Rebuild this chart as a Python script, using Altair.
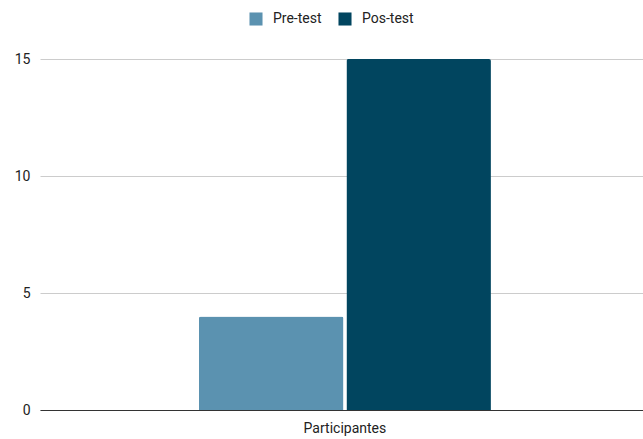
import altair as alt
import pandas as pd

categories = ["Participantes"]
series = ["Pre-test", "Pos-test"]
values = [4, 15]
colors = ["#5b92b0", "#01455f"]

df = pd.DataFrame({
    "cat": [categories[0]] * len(series),
    "serie": series,
    "valor": values,
})

chart = alt.Chart(df).mark_bar(cornerRadiusTopLeft=2, cornerRadiusTopRight=2).encode(
    x=alt.X("cat:N", title=None,
            scale=alt.Scale(paddingInner=0, paddingOuter=0.5325, align=0.511),
            axis=alt.Axis(labelAngle=0, ticks=False, domainColor="#333333",
                          labelFontSize=14, labelColor="#222222", labelPadding=11,
                          labelFont="Roboto")),
    xOffset=alt.XOffset("serie:N", sort=series,
                        scale=alt.Scale(paddingInner=0.02, paddingOuter=0)),
    y=alt.Y("valor:Q", title=None,
            scale=alt.Scale(domain=[0, 15], nice=False),
            axis=alt.Axis(values=[0, 5, 10, 15], domain=False, ticks=False,
                          gridColor="#cccccc", labelFontSize=14,
                          labelColor="#222222", labelPadding=10,
                          labelFont="Roboto")),
    color=alt.Color("serie:N", sort=series,
                    scale=alt.Scale(domain=series, range=colors),
                    legend=alt.Legend(title=None, orient="none", direction="horizontal",
                                      legendX=209, legendY=-47,
                                      symbolType="square", symbolSize=170,
                                      symbolStrokeWidth=0, labelOffset=10,
                                      labelFontSize=14, labelColor="#222222",
                                      labelFont="Roboto", columnPadding=16)),
).properties(
    width=603, height=351,
    autosize=alt.AutoSizeParams(type="none"),
    padding={"left": 40, "top": 59, "right": 0, "bottom": 29},
).configure_view(stroke=None)

chart.save("out.html", embed_options={"renderer": "svg", "actions": False})
